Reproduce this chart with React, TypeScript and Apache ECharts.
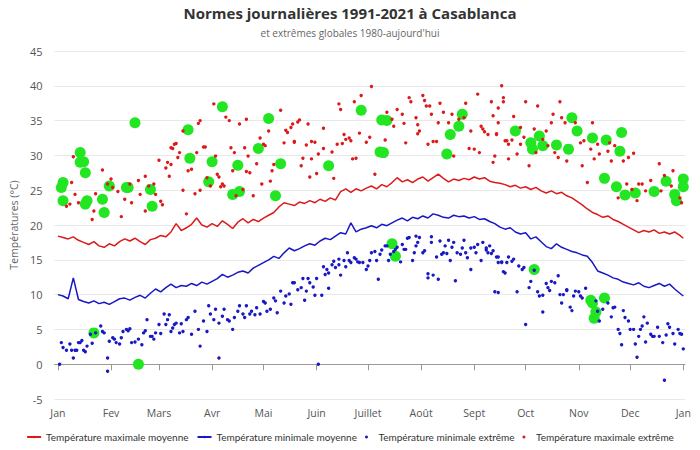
import React, { useEffect, useRef } from "react";
import * as echarts from "echarts";

const monthStarts = [0, 31, 59, 90, 120, 151, 181, 212, 243, 273, 304, 334, 365];
const monthLabels = ["Jan", "Fev", "Mars", "Avr", "Mai", "Juin", "Juillet", "Août", "Sept", "Oct", "Nov", "Dec", "Jan"];

// daily normals sampled every 3 days (last value = day 365)
const STEP = 3;
const maxMean = [
  18.4, 18.2, 18.0, 18.3, 17.8, 17.5, 17.2, 17.6, 17.0, 16.8,
  17.3, 17.0, 17.6, 18.0, 17.7, 18.1, 17.6, 17.2, 17.9, 18.1,
  18.5, 18.3, 19.0, 20.2, 19.2, 19.6, 20.1, 21.0, 20.0, 19.7,
  20.2, 19.8, 20.6, 20.1, 19.5, 20.4, 20.9, 20.3, 20.8, 20.5,
  21.0, 21.4, 21.8, 22.6, 23.2, 23.0, 22.8, 23.3, 23.1, 23.5,
  23.2, 23.7, 23.4, 23.9, 23.6, 24.8, 25.2, 24.7, 25.2, 24.9,
  25.3, 25.6, 25.2, 25.8, 25.5, 26.1, 26.8, 26.2, 26.5, 26.1,
  26.6, 26.9, 26.3, 26.8, 27.3, 26.7, 26.2, 26.6, 26.4, 26.7,
  26.5, 26.9, 26.6, 26.8, 26.3, 26.1, 26.0, 25.8, 25.5, 25.7,
  25.3, 25.5, 25.1, 25.4, 24.9, 24.6, 24.9, 24.5, 24.7, 24.2,
  23.9, 23.4, 22.9, 22.3, 21.8, 21.5, 21.1, 21.3, 20.8, 20.5,
  20.1, 19.7, 19.3, 18.9, 19.2, 19.0, 19.3, 18.8, 19.0, 18.7,
  19.0, 18.5, 18.1,
];
const minMean = [
  10.0, 9.8, 9.4, 12.4, 9.3, 9.0, 8.8, 9.1, 8.7, 8.9,
  8.6, 9.0, 9.4, 9.5, 9.2, 9.6, 9.9, 9.5, 10.2, 10.8,
  10.4, 11.0, 11.5, 11.0, 11.3, 11.2, 11.6, 11.3, 11.8, 11.5,
  11.9, 12.3, 12.9, 12.5, 12.8, 13.2, 13.4, 13.1, 13.8, 14.2,
  14.6, 15.0, 15.5, 15.2, 16.0, 16.7, 16.3, 16.6, 17.0, 17.3,
  17.1, 17.7, 18.1, 17.9, 18.4, 18.9, 18.7, 20.3, 19.0, 19.4,
  19.6, 19.9, 19.6, 20.1, 19.9, 20.3, 20.7, 21.0, 20.6, 21.1,
  20.9, 21.3, 21.0, 21.6, 21.4, 21.1, 21.0, 21.4, 21.2, 21.3,
  21.0, 21.2, 20.8, 20.9, 20.5, 20.2, 19.7, 19.4, 19.6, 19.0,
  18.7, 18.9, 18.0, 18.3, 17.6, 16.9, 16.6, 17.3, 16.8, 16.5,
  16.2, 16.0, 15.7, 15.5, 14.6, 13.4, 13.1, 12.8, 12.4, 12.2,
  11.8, 11.6, 11.4, 11.7, 11.2, 11.0, 11.3, 11.6, 11.2, 11.5,
  10.8, 10.2, 9.8,
];

// [day of year, °C]
const maxExtreme = [
  [8, 26.1], [9, 29.8], [10, 24.4], [5, 22.7], [7, 23], [12, 23.2], [21, 22], [20, 20.8], [22, 24.5], [26, 27.9],
  [29, 25.9], [31, 26.6], [32, 25.4], [35, 24.8], [37, 21.2], [39, 23.7], [42, 25.9], [43, 23.2], [47, 26.4], [48, 24.4],
  [51, 27], [51, 22], [53, 25.6], [56, 25.9], [57, 24.4], [59, 29.3], [60, 23.4], [61, 22.9], [63, 28.2], [64, 29],
  [66, 28.7], [65, 27], [66, 31.1], [68, 31.6], [70, 29.7], [71, 30.4], [73, 25], [75, 21.6], [76, 27.8], [78, 28],
  [80, 24.5], [81, 30.4], [83, 25], [86, 31.2], [87, 26.8], [89, 25.6], [92, 29.9], [93, 27.3], [94, 26.9], [95, 25.5],
  [96, 25.9], [97, 25.6], [101, 31.1], [102, 27.8], [103, 30.4], [104, 24.2], [108, 25.1], [109, 31.1], [110, 27.7], [111, 29.9],
  [112, 27.5], [114, 24.2], [116, 28.8], [120, 31.6], [119, 25.9], [124, 26.3], [125, 27.8], [126, 28.7], [132, 31.8],
  [91, 37.4], [98, 35.5], [100, 35], [106, 34.5], [110, 35.2], [83, 35], [82, 34.6], [73, 33.5], [69, 31.7], [67, 31],
  [85, 31.2], [118, 32.5], [121, 31.4], [123, 33.5], [130, 36.5], [133, 33.6], [134, 33.3], [136, 34], [137, 34.5], [141, 35.1],
  [140, 34.8], [138, 32],
  [183, 39.9], [164, 37.4], [165, 36.6], [173, 37.7], [177, 38.6], [146, 34.5], [138, 31.9], [145, 31.5], [148, 32], [150, 31.9],
  [155, 33.9], [155, 31], [152, 30.2], [143, 29.6], [148, 29.5], [142, 28.5], [147, 26.9], [151, 27.4], [160, 30.5], [161, 26.7],
  [163, 31.6], [167, 33], [168, 32.3], [170, 32.5], [171, 32.1], [166, 31.7], [172, 29.5], [174, 29.6], [176, 33.2], [180, 31.9],
  [182, 32.6], [185, 27.3], [191, 32.2], [192, 36.2], [195, 35.2], [196, 34.2], [198, 36.6], [201, 35.9], [202, 34.6], [205, 38.3],
  [206, 37.7], [203, 31.8], [209, 35.4], [210, 34.4], [210, 33.1], [211, 33.5], [213, 38.6], [214, 37.9], [215, 37.1], [216, 31.6],
  [217, 37.1], [219, 32], [221, 32], [218, 35.9], [222, 34.7], [223, 37.5], [225, 36.2], [228, 34.7], [230, 35.9], [231, 29.9],
  [234, 35.2], [237, 35.4], [238, 37.5], [241, 33.5], [240, 31], [243, 30.9], [245, 38.8], [246, 30.4], [247, 34.2], [248, 33.8],
  [249, 33.4], [253, 37.7], [254, 35.7], [255, 29.9], [254, 29], [256, 33.1], [257, 34.7], [259, 40], [260, 37.7], [261, 32.1],
  [263, 31.6], [260, 38.3], [257, 36.8], [266, 35.6], [273, 37.7], [280, 37.1], [293, 37.7], [289, 35.9], [288, 34.7], [296, 34.7],
  [294, 35.4], [251, 33], [256, 33], [262, 32.1], [265, 32.2], [270, 31.6], [272, 32.6], [278, 33.8], [279, 30.4], [283, 32.3],
  [285, 33.5], [286, 31.4], [290, 30.4], [292, 29.7], [263, 29.5], [268, 30.2], [275, 28.5], [297, 29.2], [302, 34.7], [305, 31.8],
  [307, 32.1], [306, 28.5], [309, 26.1], [312, 34.7], [311, 30.9], [313, 29.5], [315, 31.6], [316, 30.2], [321, 30.6], [322, 31.8],
  [323, 29.2], [325, 31.4], [330, 29.2], [333, 29.7], [336, 30.3], [327, 23.9], [332, 25.9], [335, 25.1], [338, 23.5], [339, 25.9],
  [341, 25.9], [343, 24.9], [346, 26.4], [351, 28.8], [352, 24.9], [354, 27.1], [359, 27.8], [358, 25.6], [363, 23.9], [364, 23.2],
  [270, 34],
];

const minExtreme = [
  [1, 0], [2, 3.1], [3, 2.4], [5, 2], [7, 2.9], [8, 2], [9, 0.9], [10, 2], [11, 2], [12, 3.1],
  [13, 3.1], [14, 3.4], [15, 2], [16, 1.8], [17, 2.6], [19, 4.3], [20, 3], [22, 4.5], [25, 5.5], [26, 4.7],
  [27, 4.5], [29, 0.9], [29, -1], [30, 3.3], [32, 3.8], [33, 3.6], [34, 3.1], [36, 2.9], [37, 3.8], [38, 4.7],
  [40, 5], [41, 4.8], [42, 5.1], [43, 3.1], [45, 3.2], [47, 3.6], [49, 2.8], [50, 4.5], [51, 4.8], [52, 6.4],
  [54, 4], [55, 4], [56, 3.6], [57, 4.5], [59, 5.7], [60, 4.4], [62, 7.2], [63, 5.7], [64, 6.4], [65, 7.1],
  [66, 4.7], [67, 5.2], [68, 5.7], [69, 5.9], [71, 4.5], [72, 5.8], [73, 4.7], [75, 6.4], [76, 6.7], [78, 4.3],
  [80, 7.6], [82, 5], [83, 2.6], [85, 6.2], [87, 4.7], [88, 8.4], [89, 7.2], [91, 6.4], [92, 7.9], [94, 0.9],
  [94, 5.9], [96, 6.9], [97, 7.9], [99, 6.4], [100, 6.2], [102, 5], [103, 6.7], [105, 7.6], [106, 8.4], [108, 7.2],
  [109, 6.7], [110, 8.4], [112, 7.2], [113, 7.6], [115, 7.1], [116, 8.1], [118, 7.2], [120, 9], [121, 8.8], [122, 7.6],
  [124, 7.9], [126, 9.5], [127, 9.1], [128, 7.4], [130, 10.5], [132, 8.8], [133, 9.8], [135, 10.1], [136, 8.6], [137, 11.7],
  [138, 11.7], [140, 10.7], [142, 11], [143, 12.3], [144, 9.2], [145, 10.5], [146, 12.3], [147, 11.7], [149, 11.1], [150, 9.9],
  [151, 12.3], [152, 0], [154, 9.9], [155, 14], [156, 12.9], [157, 13.6], [158, 10.9], [158, 13.1], [160, 14.3], [161, 14.8],
  [162, 13.9], [164, 14.3], [164, 15.1], [165, 12.8], [167, 14.9], [168, 14], [169, 16], [170, 14.9], [171, 14.6], [173, 15.3],
  [174, 15.1], [175, 14.7], [176, 14.6], [178, 14.6], [180, 13.6], [181, 14.1], [182, 14.9], [183, 16], [185, 16.2], [186, 14.9],
  [187, 12.2], [188, 15.8], [189, 16.4], [191, 17], [192, 17], [193, 14.9], [194, 15.8], [196, 16.2], [197, 16.5], [198, 16.8],
  [200, 14.7], [201, 17.2], [202, 16.5], [203, 16.5], [204, 18.1], [205, 18.2], [207, 14.9], [208, 16], [209, 17], [209, 18.4],
  [210, 17.5], [211, 18.2], [213, 16], [214, 16.3], [216, 13], [216, 12.4], [218, 18.3], [218, 17.5], [219, 12.8], [221, 15.4],
  [222, 12.2], [223, 17.7], [224, 15.8], [225, 16], [226, 17], [227, 15.9], [228, 17.8], [229, 14.9], [230, 16.8], [231, 17.5],
  [232, 12], [233, 16], [235, 15.8], [236, 16.7], [237, 17.8], [238, 16], [239, 15.3], [241, 13.6], [241, 16.7], [243, 16.8],
  [244, 16], [245, 17.2], [247, 14.9], [248, 17.5], [250, 16.7], [251, 16], [252, 17], [254, 16.3], [255, 10.4], [257, 10.3],
  [257, 15.4], [259, 14.7], [260, 13.3], [262, 14.6], [263, 15.4], [250, 16.4], [253, 15.9], [256, 15.4], [257, 14.6], [259, 14.6],
  [261, 13.1], [265, 14.8], [266, 15.1], [268, 10.4], [269, 14.1], [271, 13.6], [272, 13.9], [273, 5.7], [275, 11], [276, 11.9],
  [278, 13.5], [280, 10.4], [281, 9.8], [283, 7.5], [283, 9.9], [285, 11.6], [286, 11], [287, 10.6], [288, 11.9], [290, 11.7],
  [292, 12.7], [293, 10], [294, 8.8], [295, 10], [297, 10.6], [297, 10.7], [299, 8.2], [300, 7.7], [301, 9.8], [302, 10.5],
  [304, 10.4], [305, 9.8], [306, 9.5], [308, 10.9], [314, 9.1], [315, 7.6], [316, 6.2], [318, 7.9], [321, 8.8], [323, 6.8],
  [324, 8.1], [325, 8.2], [327, 5], [328, 4.4], [329, 2.8], [330, 7.7], [331, 6.7], [333, 6.2], [334, 5], [336, 5],
  [337, 2.9], [338, 1], [339, 4], [340, 5], [341, 5.5], [342, 6.8], [343, 3.2], [344, 5.9], [346, 4.3], [347, 4],
  [348, 4], [350, 5.3], [351, 4], [353, 3.1], [354, -2.3], [355, 4.2], [356, 5.8], [357, 5.3], [359, 4.4], [360, 2.9],
  [362, 5], [363, 4.4], [364, 4.3], [365, 2.2],
];

const yearRecords = [
  [2, 25.4], [3, 26.1], [3, 23.5], [13, 30.4], [13, 29], [15, 29.1], [16, 27.5], [17, 23.5], [16, 23], [26, 23.7],
  [27, 21.8], [30, 25.6], [40, 25.4], [41, 25.4], [54, 25.1], [55, 22.7], [77, 29.6], [90, 29.1], [88, 26.2], [105, 28.6],
  [102, 24.4], [106, 24.8], [117, 31], [127, 24.2], [130, 28.8], [45, 34.7], [96, 37], [76, 33.7], [123, 35.3], [21, 4.5],
  [47, 0], [177, 36.5], [189, 35.1], [192, 35], [188, 30.5], [190, 30.4], [158, 28.5], [229, 33], [227, 30.2], [234, 34.2],
  [236, 35.9], [195, 17.3], [197, 15.5], [267, 33.5], [276, 31.8], [277, 30.9], [281, 32.8], [283, 31.4], [291, 31.5], [298, 30.9],
  [300, 35.4], [303, 33.5], [312, 32.5], [320, 32.2], [329, 33.3], [328, 30.6], [319, 26.7], [326, 25.5], [331, 24.3], [337, 24.6],
  [348, 24.8], [355, 26.3], [360, 24.4], [361, 23.5], [365, 26.6], [365, 25.5], [278, 13.6], [311, 9.2], [312, 8.8], [319, 9.5],
  [314, 7.5], [313, 6.6],
];

const NAME_MAX_MEAN = "Température maximale moyenne";
const NAME_MIN_MEAN = "Température minimale moyenne";
const NAME_MIN_EXT = "Température minimale extrême";
const NAME_MAX_EXT = "Température maximale extrême";

const RED = "#dc1a1a";
const BLUE = "#1818c4";
const GREEN = "#22e622";
const FONT = "'Open Sans', 'Noto Sans', sans-serif";
const LEGEND_FONT = "Lato, 'Open Sans', sans-serif";

const toSeries = (arr: number[]) => arr.map((v, i) => [Math.min(i * STEP, 365), v]);

export default function App() {
  const ref = useRef<HTMLDivElement>(null);
  useEffect(() => {
    document.body.style.margin = "0";
    if (!ref.current) return;
    const chart = echarts.init(ref.current, undefined, { renderer: "svg" });
    chart.setOption({
      animation: false,
      backgroundColor: "#fff",
      textStyle: { fontFamily: FONT },
      title: {
        text: "Normes journalières 1991-2021 à Casablanca",
        subtext: "et extrêmes globales 1980-aujourd'hui",
        left: "center",
        top: 0,
        itemGap: 8,
        textStyle: { fontSize: 15, fontWeight: "bold", color: "#333", fontFamily: FONT },
        subtextStyle: { fontSize: 10, color: "#666", fontFamily: FONT },
      },
      legend: {
        bottom: 3,
        left: "center",
        itemWidth: 14,
        itemHeight: 3,
        itemGap: 8,
        textStyle: { fontSize: 10, color: "#333", fontFamily: LEGEND_FONT },
        data: [
          { name: NAME_MAX_MEAN },
          { name: NAME_MIN_MEAN },
          { name: NAME_MIN_EXT, icon: "circle" },
          { name: NAME_MAX_EXT, icon: "circle" },
        ],
      },
      grid: { left: 50, right: 15, top: 51, bottom: 51 },
      xAxis: {
        type: "value",
        min: -2,
        max: 366,
        splitLine: { show: false },
        axisLine: { lineStyle: { color: "#999" } },
        axisTick: { customValues: monthStarts, length: 6, lineStyle: { color: "#999" } },
        axisLabel: {
          customValues: monthStarts,
          formatter: (v: number) => {
            const i = monthStarts.indexOf(Math.round(v));
            return i >= 0 ? monthLabels[i] : "";
          },
          color: "#555",
          fontSize: 10.5,
          margin: 8,
        },
      },
      yAxis: {
        type: "value",
        min: -5,
        max: 45,
        interval: 5,
        name: "Températures (°C)",
        nameLocation: "middle",
        nameGap: 28,
        nameTextStyle: { fontSize: 10.5, color: "#666" },
        axisLine: { show: false },
        axisTick: { show: false },
        axisLabel: { color: "#555", fontSize: 11, margin: 12 },
        splitLine: { lineStyle: { color: "#e8e8e8" } },
      },
      series: [
        {
          name: "records",
          type: "scatter",
          data: yearRecords,
          symbolSize: 11,
          itemStyle: { color: GREEN, opacity: 1 },
          z: 1,
        },
        {
          name: NAME_MAX_MEAN,
          type: "line",
          data: toSeries(maxMean),
          symbol: "none",
          lineStyle: { color: RED, width: 1.5 },
          itemStyle: { color: RED },
          z: 2,
        },
        {
          name: NAME_MIN_MEAN,
          type: "line",
          data: toSeries(minMean),
          symbol: "none",
          lineStyle: { color: BLUE, width: 1.5 },
          itemStyle: { color: BLUE },
          z: 2,
        },
        {
          name: NAME_MIN_EXT,
          type: "scatter",
          data: minExtreme,
          symbolSize: 3.4,
          itemStyle: { color: BLUE, opacity: 1 },
          z: 3,
        },
        {
          name: NAME_MAX_EXT,
          type: "scatter",
          data: maxExtreme,
          symbolSize: 3.4,
          itemStyle: { color: RED, opacity: 1 },
          z: 3,
        },
      ],
    });
    return () => chart.dispose();
  }, []);
  return <div ref={ref} style={{ width: 700, height: 450 }} />;
}
